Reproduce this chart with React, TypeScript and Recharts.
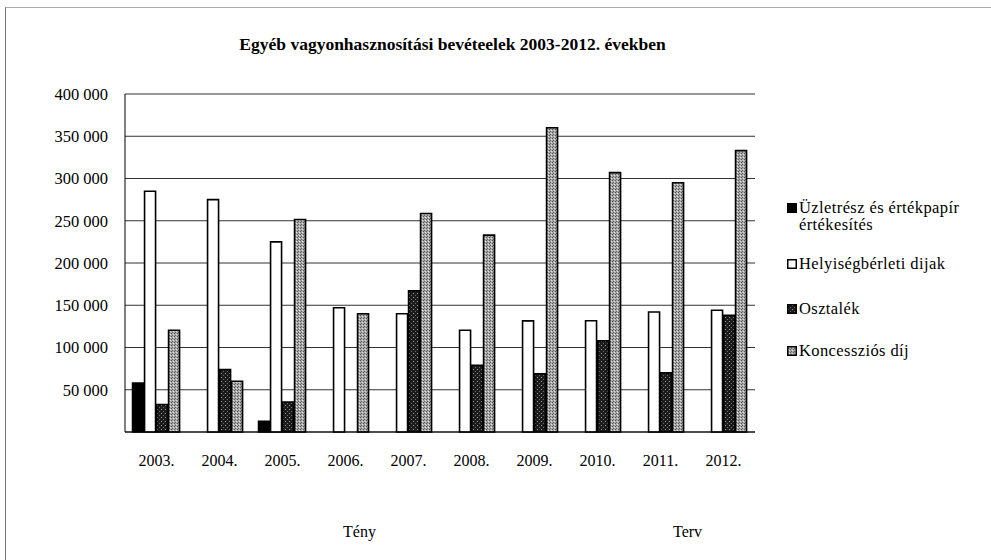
import { BarChart, Bar, XAxis, YAxis, CartesianGrid } from 'recharts';

// years on the category axis
const years = ['2003.', '2004.', '2005.', '2006.', '2007.', '2008.', '2009.', '2010.', '2011.', '2012.'];

// series values (thousand HUF)
const uzletresz = [58000, 0, 12700, 0, 0, 0, 0, 0, 0, 0];
const helyiseg = [285000, 275000, 225000, 147000, 140000, 120500, 131500, 131700, 142000, 144000];
const osztalek = [32500, 74000, 35500, 0, 167000, 79000, 69000, 108000, 70000, 138000];
const koncesszio = [120500, 60000, 251500, 140000, 258500, 233000, 360000, 307000, 295000, 333000];

const yTicks = [0, 50000, 100000, 150000, 200000, 250000, 300000, 350000, 400000];

const series = [
  { key: 'uzletresz', name: 'Üzletrész és értékpapír értékesítés', fill: '#000' },
  { key: 'helyiseg', name: 'Helyiségbérleti dijak', fill: '#fff' },
  { key: 'osztalek', name: 'Osztalék', fill: 'url(#patOsz)' },
  { key: 'koncesszio', name: 'Koncessziós díj', fill: 'url(#patKonc)' },
];

const data = years.map((year, i) => ({
  year,
  uzletresz: uzletresz[i],
  helyiseg: helyiseg[i],
  osztalek: osztalek[i],
  koncesszio: koncesszio[i],
}));

const font = 'Liberation Serif, serif';

const fmt = (v: number) => (v === 0 ? '' : String(v).replace(/\B(?=(\d{3})+(?!\d))/g, ' '));

function Patterns() {
  return (
    <svg width={0} height={0} style={{ position: 'absolute' }}>
      <defs>
        <pattern id="patOsz" width="4" height="4" patternUnits="userSpaceOnUse">
          <rect width="4" height="4" fill="#1c1c1c" />
          <rect x="1" y="1" width="1" height="1" fill="#9a9a9a" />
          <rect x="3" y="3" width="1" height="1" fill="#6a6a6a" />
        </pattern>
        <pattern id="patKonc" width="3" height="3" patternUnits="userSpaceOnUse">
          <rect width="3" height="3" fill="#a8a8a8" />
          <rect x="0" y="0" width="1" height="1" fill="#555" />
          <rect x="2" y="1" width="1" height="1" fill="#e0e0e0" />
          <rect x="1" y="2" width="1" height="1" fill="#666" />
        </pattern>
      </defs>
    </svg>
  );
}

const legendTop = [199, 255, 300, 342];

export default function App() {
  return (
    <div style={{ position: 'absolute', left: 0, top: 0, width: 991, height: 560, background: '#fff', fontFamily: font }}>
      <Patterns />
      <div style={{ position: 'absolute', left: 5, top: 7, width: 985, height: 552, borderLeft: '1px solid #777', borderTop: '1px solid #aaa' }} />
      <div style={{ position: 'absolute', top: 34, left: 0, width: 905, textAlign: 'center', fontWeight: 'bold', fontSize: 17.5 }}>
        Egyéb vagyonhasznosítási bevéteelek 2003-2012. években
      </div>
      <BarChart
        width={991}
        height={560}
        data={data}
        margin={{ top: 94, right: 236, bottom: 98, left: 0 }}
        barCategoryGap="12%"
        barGap={1}
        style={{ position: 'absolute', left: 0, top: 0, fontFamily: font }}
      >
        <CartesianGrid vertical={false} stroke="#333" strokeWidth={1} />
        <XAxis
          dataKey="year"
          axisLine={{ stroke: '#000' }}
          tickLine={false}
          tickSize={0}
          tickMargin={23}
          height={30}
          tick={{ fill: '#000', fontSize: 16, fontFamily: font }}
        />
        <YAxis
          width={125}
          domain={[0, 400000]}
          ticks={yTicks}
          interval={0}
          tickFormatter={fmt}
          axisLine={{ stroke: '#000' }}
          tickLine={false}
          tickSize={0}
          tickMargin={17}
          tick={{ fill: '#000', fontSize: 16.5, fontFamily: font }}
        />
        {series.map((s) => (
          <Bar
            key={s.key}
            dataKey={s.key}
            name={s.name}
            fill={s.fill}
            stroke="#000"
            strokeWidth={1.6}
            isAnimationActive={false}
          />
        ))}
      </BarChart>
      {series.map((s, i) => (
        <div key={s.key} style={{ position: 'absolute', left: 787, top: legendTop[i], width: 200, fontSize: 16.5, letterSpacing: 0.4, lineHeight: '17px', display: 'flex' }}>
          <svg width={10} height={10} style={{ marginTop: 4, marginRight: 2, flex: 'none' }}>
            <rect x={0.75} y={0.75} width={8.5} height={8.5} fill={s.fill} stroke="#000" strokeWidth={1.5} />
          </svg>
          <span style={{ width: 165 }}>{s.name}</span>
        </div>
      ))}
      <div style={{ position: 'absolute', left: 343, top: 523, fontSize: 16 }}>Tény</div>
      <div style={{ position: 'absolute', left: 673, top: 523, fontSize: 16 }}>Terv</div>
    </div>
  );
}
